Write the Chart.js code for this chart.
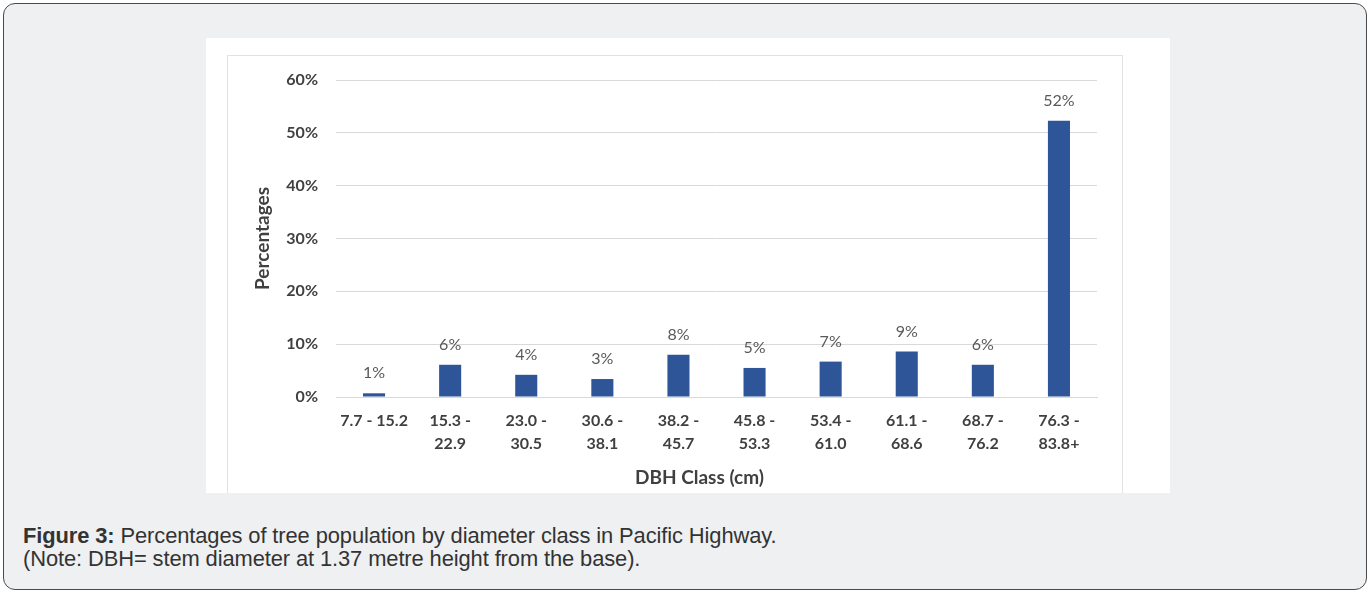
<!DOCTYPE html>
<html>
<head>
<meta charset="utf-8">
<script src="https://cdn.jsdelivr.net/npm/chart.js@4"></script>
<style>
  html, body { margin: 0; padding: 0; background: #ffffff; }
  body { width: 1371px; height: 594px; position: relative; overflow: hidden; }
  #frame { position: absolute; left: 3px; top: 3px; width: 1364px; height: 587px;
    border: 1px solid #4a4a4a; border-radius: 12px; background: #eef0f2; box-sizing: border-box; }
  #img { position: absolute; left: 206px; top: 38px; width: 964px; height: 455px; background: #ffffff; }
  #inner { position: absolute; left: 227px; top: 55px; width: 896px; height: 438px;
    border-left: 1px solid #e2e2e2; border-top: 1px solid #e2e2e2; border-right: 1px solid #e2e2e2; box-sizing: border-box; }
  #wrap { position: absolute; left: 227px; top: 56px; width: 895px; height: 437px; }
  #caption { position: absolute; left: 23px; top: 524px; font-family: "Liberation Sans", Arial, sans-serif;
    font-size: 21.9px; color: #333; line-height: 23px; letter-spacing: -0.1px; }
</style>
</head>
<body>
<div id="frame"></div>
<div id="img"></div>
<div id="inner"></div>
<div id="wrap"><canvas id="c"></canvas></div>
<div id="caption"><b>Figure 3:</b> Percentages of tree population by diameter class in Pacific Highway.<br>(Note: DBH= stem diameter at 1.37 metre height from the base).</div>
<script>
const categories = [
  ['7.7 - 15.2'], ['15.3 -', '22.9'], ['23.0 -', '30.5'], ['30.6 -', '38.1'], ['38.2 -', '45.7'],
  ['45.8 -', '53.3'], ['53.4 -', '61.0'], ['61.1 -', '68.6'], ['68.7 -', '76.2'], ['76.3 -', '83.8+']
];
const percentages = [0.7, 6.1, 4.2, 3.4, 8.0, 5.5, 6.7, 8.6, 6.1, 52.3];
const valueLabels = ['1%', '6%', '4%', '3%', '8%', '5%', '7%', '9%', '6%', '52%'];
const yTicks = [0, 10, 20, 30, 40, 50, 60];
const xTitle = 'DBH Class (cm)';
const yTitle = 'Percentages';

const FONT = 'Lato, "Open Sans", sans-serif';

const labelPlugin = {
  id: 'valueLabels',
  afterDatasetsDraw(chart) {
    const ctx = chart.ctx;
    const meta = chart.getDatasetMeta(0);
    ctx.save();
    ctx.font = '16px ' + FONT;
    ctx.fillStyle = '#595959';
    ctx.textAlign = 'center';
    ctx.textBaseline = 'middle';
    meta.data.forEach((bar, i) => {
      ctx.fillText(valueLabels[i], bar.x, bar.y - 20);
    });
    ctx.restore();
  },
  afterDraw(chart) {
    const ctx = chart.ctx;
    const xs = chart.scales.x;
    ctx.save();
    ctx.font = 'bold 19px ' + FONT;
    ctx.fillStyle = '#404040';
    ctx.textAlign = 'center';
    ctx.textBaseline = 'middle';
    ctx.fillText(xTitle, (xs.left + xs.right) / 2 - 17, xs.top + 81);
    ctx.restore();
  }
};

new Chart(document.getElementById('c'), {
  type: 'bar',
  data: {
    labels: categories,
    datasets: [{
      data: percentages,
      backgroundColor: '#2e5597',
      barPercentage: 0.29,
      categoryPercentage: 1.0
    }]
  },
  options: {
    responsive: true,
    maintainAspectRatio: false,
    animation: false,
    layout: { padding: { top: 24, right: 25, left: 0, bottom: 0 } },
    plugins: { legend: { display: false }, tooltip: { enabled: false } },
    scales: {
      x: {
        grid: { display: false, drawTicks: false },
        border: { display: true, color: '#d9d9d9', width: 1 },
        ticks: {
          color: '#404040',
          font: { family: FONT, size: 16, weight: 'bold', lineHeight: 1.44 },
          maxRotation: 0, autoSkip: false, padding: 12
        },
        title: { display: false },
        afterFit(scale) { scale.height = 96; }
      },
      y: {
        min: 0, max: 60,
        afterBuildTicks(scale) { scale.ticks = yTicks.map(v => ({ value: v })); },
        grid: { color: '#d9d9d9', drawTicks: false },
        border: { display: false },
        ticks: {
          color: '#404040',
          font: { family: FONT, size: 16, weight: 'bold' },
          padding: 18,
          callback: v => v + '%'
        },
        title: {
          display: true, text: yTitle, color: '#404040',
          font: { family: FONT, size: 19, weight: 'bold' },
          padding: { top: 24, bottom: 0 }
        },
        afterFit(scale) { scale.width = 109; scale.paddingTop = 0; scale.paddingBottom = 0; }
      }
    }
  },
  plugins: [labelPlugin]
});
</script>
</body>
</html>
